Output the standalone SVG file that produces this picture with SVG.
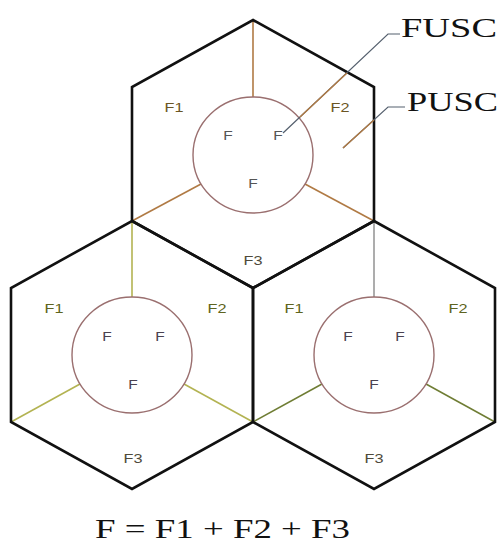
<svg xmlns="http://www.w3.org/2000/svg" width="500" height="543" viewBox="0 0 500 543">
  <style>
    .hex { fill: none; stroke: #111; stroke-width: 2.6; stroke-linejoin: miter; }
    .ring { fill: none; stroke: #9a6f6f; stroke-width: 1.4; }
    .sp-top { stroke: #b07a44; stroke-width: 1.6; }
    .sp-bl { stroke: #b3b352; stroke-width: 1.6; }
    .sp-br { stroke: #6f7d34; stroke-width: 1.5; }
    .sp-gray { stroke: #8a8a8a; stroke-width: 1.4; }
    .lead { stroke: #55606e; stroke-width: 1.2; fill: none; }
    .lead-in { stroke: #b07a44; stroke-width: 1.4; }
    .lbl { font-family: "Liberation Sans", Arial, sans-serif; font-size: 12px; text-anchor: middle; }
    .zone-t { fill: #6b5524; }
    .zone-b { fill: #5e6420; }
    .sub-t { fill: #555555; }
    .sub-b { fill: #4a4250; }
    .f3 { fill: #4e4a3a; }
    .serif { font-family: "Liberation Serif", "Times New Roman", serif; font-size: 28px; fill: #111; }
  </style>

  <!-- top cell -->
  <g id="cell-top">
    <line class="sp-top" x1="253" y1="20" x2="253" y2="97"/>
    <line class="sp-top" x1="132" y1="221" x2="201" y2="184"/>
    <line class="sp-top" x1="374" y1="221" x2="305" y2="184"/>
    <polygon class="hex" points="253,20 374,87 374,221 253,288 132,221 132,87"/>
    <ellipse class="ring" cx="253" cy="155" rx="60" ry="58"/>
    <text class="lbl zone-t" x="174" y="112" textLength="19" lengthAdjust="spacingAndGlyphs">F1</text>
    <text class="lbl zone-t" x="340" y="112" textLength="19" lengthAdjust="spacingAndGlyphs">F2</text>
    <text class="lbl f3" x="253" y="265" textLength="19" lengthAdjust="spacingAndGlyphs">F3</text>
    <text class="lbl sub-t" x="228" y="140" textLength="9.5" lengthAdjust="spacingAndGlyphs">F</text>
    <text class="lbl sub-t" x="278" y="140" textLength="9.5" lengthAdjust="spacingAndGlyphs">F</text>
    <text class="lbl sub-t" x="253" y="188" textLength="9.5" lengthAdjust="spacingAndGlyphs">F</text>
  </g>

  <!-- lower left cell -->
  <g id="cell-left">
    <line class="sp-bl" x1="132" y1="221" x2="132" y2="297"/>
    <line class="sp-bl" x1="11" y1="422" x2="80" y2="384"/>
    <line class="sp-bl" x1="253" y1="422" x2="184" y2="384"/>
    <polygon class="hex" points="132,221 253,288 253,422 132,489 11,422 11,288"/>
    <ellipse class="ring" cx="132" cy="355" rx="60" ry="58"/>
    <text class="lbl zone-b" x="54" y="313" textLength="19" lengthAdjust="spacingAndGlyphs">F1</text>
    <text class="lbl zone-b" x="217" y="313" textLength="19" lengthAdjust="spacingAndGlyphs">F2</text>
    <text class="lbl f3" x="133" y="463" textLength="19" lengthAdjust="spacingAndGlyphs">F3</text>
    <text class="lbl sub-b" x="107" y="341" textLength="9.5" lengthAdjust="spacingAndGlyphs">F</text>
    <text class="lbl sub-b" x="160" y="341" textLength="9.5" lengthAdjust="spacingAndGlyphs">F</text>
    <text class="lbl sub-b" x="133" y="389" textLength="9.5" lengthAdjust="spacingAndGlyphs">F</text>
  </g>

  <!-- lower right cell -->
  <g id="cell-right">
    <line class="sp-gray" x1="374" y1="221" x2="374" y2="297"/>
    <line class="sp-br" x1="253" y1="422" x2="322" y2="384"/>
    <line class="sp-br" x1="495" y1="422" x2="426" y2="384"/>
    <polygon class="hex" points="374,221 495,288 495,422 374,489 253,422 253,288"/>
    <ellipse class="ring" cx="374" cy="355" rx="60" ry="58"/>
    <text class="lbl zone-b" x="294" y="313" textLength="19" lengthAdjust="spacingAndGlyphs">F1</text>
    <text class="lbl zone-b" x="458" y="313" textLength="19" lengthAdjust="spacingAndGlyphs">F2</text>
    <text class="lbl f3" x="374" y="463" textLength="19" lengthAdjust="spacingAndGlyphs">F3</text>
    <text class="lbl sub-b" x="348" y="341" textLength="9.5" lengthAdjust="spacingAndGlyphs">F</text>
    <text class="lbl sub-b" x="400" y="341" textLength="9.5" lengthAdjust="spacingAndGlyphs">F</text>
    <text class="lbl sub-b" x="374" y="389" textLength="9.5" lengthAdjust="spacingAndGlyphs">F</text>
  </g>

  <!-- callout leaders -->
  <g id="connectors">
    <polyline class="lead" points="283,133 388,34 400,34"/>
    <line class="lead-in" x1="300" y1="117" x2="347" y2="73"/>
    <polyline class="lead" points="343,148 388,107 405,107"/>
    <line class="lead-in" x1="343" y1="148" x2="374" y2="120"/>
  </g>

  <g id="label-fusc">
    <text class="serif" x="401" y="37" textLength="96" lengthAdjust="spacingAndGlyphs">FUSC</text>
  </g>
  <g id="label-pusc">
    <text class="serif" x="407" y="111" textLength="91" lengthAdjust="spacingAndGlyphs">PUSC</text>
  </g>
  <g id="equation">
    <text class="serif" x="95" y="538" textLength="255" lengthAdjust="spacingAndGlyphs">F = F1 + F2 + F3</text>
  </g>
</svg>
